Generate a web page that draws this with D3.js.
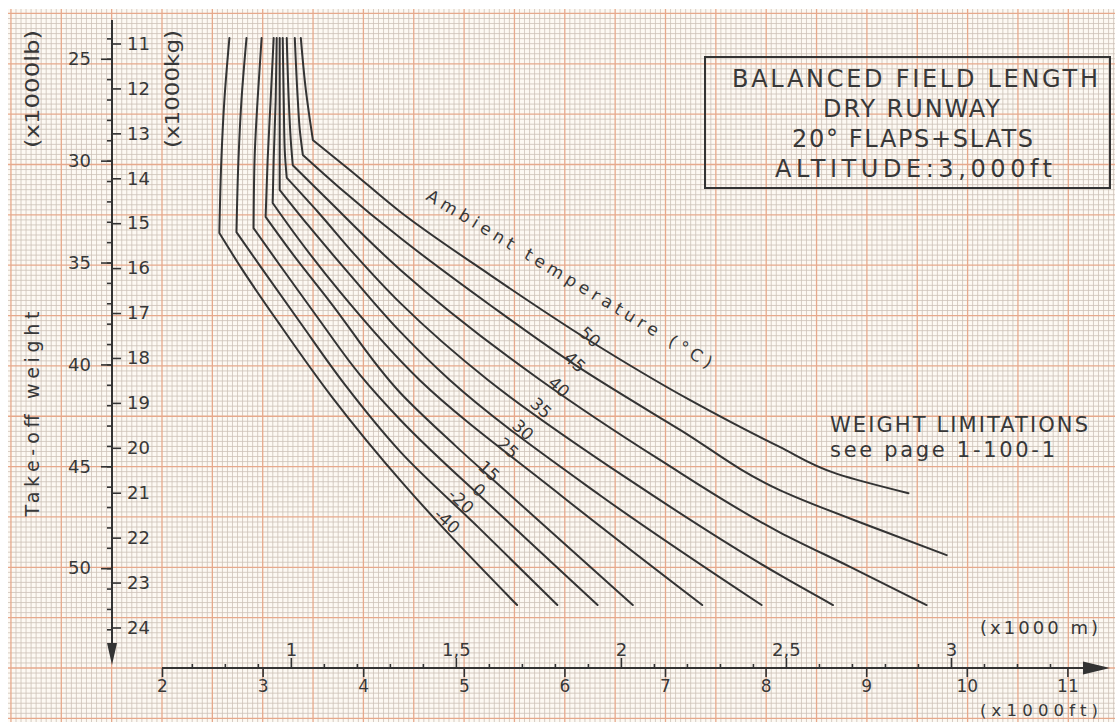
<!DOCTYPE html>
<html>
<head>
<meta charset="utf-8">
<script src="https://cdn.jsdelivr.net/npm/d3@7"></script>
<style>
  html, body { margin: 0; padding: 0; background: #ffffff; }
  svg { display: block; }
  text { font-family: "DejaVu Sans", "Liberation Sans", sans-serif; fill: #383838; }
</style>
</head>
<body>
<svg id="chart" width="1115" height="722"></svg>
<script>
// Ambient temperature of each curve (°C)
const temperatures = [-40, -20, 0, 15, 25, 30, 35, 40, 45, 50];

// Balanced field length (x1000 ft) against take-off weight (x1000 kg).
// Points before the bend follow the near-vertical upper branch.
const curveMinus40 = [[2.67,10.88],[2.62,12.26],[2.59,13.59],[2.57,15.22],[2.80,16.04],[3.16,17.22],[3.69,18.87],[4.41,20.83],[4.76,21.70],[5.53,23.5]];
const curveMinus20 = [[2.84,10.88],[2.79,12.26],[2.76,13.59],[2.74,15.20],[2.99,16.00],[3.37,17.20],[3.82,18.60],[4.37,20.09],[5.14,21.76],[5.93,23.5]];
const curve0  = [[2.99,10.88],[2.95,12.26],[2.92,13.59],[2.91,15.11],[3.17,15.93],[3.55,17.11],[3.97,18.38],[4.37,19.38],[5.31,21.38],[6.33,23.5]];
const curve15 = [[3.11,10.88],[3.08,12.26],[3.05,13.59],[3.03,14.86],[3.27,15.60],[3.67,16.75],[4.37,18.78],[4.91,19.94],[5.46,21.05],[6.68,23.5]];
const curve25 = [[3.14,10.88],[3.13,12.26],[3.11,13.59],[3.10,14.55],[3.35,15.33],[3.77,16.53],[4.56,18.49],[5.96,21.05],[7.37,23.5]];
const curve30 = [[3.17,10.88],[3.17,12.26],[3.17,13.37],[3.17,14.26],[3.45,15.04],[3.87,16.15],[4.37,17.42],[4.86,18.49],[6.35,21.05],[7.96,23.5]];
const curve35 = [[3.20,10.88],[3.21,12.26],[3.22,13.37],[3.24,13.99],[3.55,14.75],[3.92,15.71],[4.37,16.78],[5.24,18.49],[6.65,20.72],[8.14,22.83],[8.67,23.5]];
const curve40 = [[3.24,10.88],[3.26,12.26],[3.28,13.15],[3.30,13.71],[3.63,14.44],[4.37,16.04],[5.76,18.49],[6.95,20.27],[8.14,21.88],[8.84,22.65],[9.60,23.5]];
const curve45 = [[3.32,10.88],[3.35,12.26],[3.37,12.93],[3.40,13.48],[3.77,14.22],[4.37,15.33],[5.26,16.82],[6.11,18.16],[7.15,19.60],[8.14,20.94],[9.14,21.83],[9.80,22.39]];
const curve50 = [[3.38,10.88],[3.43,12.04],[3.47,12.70],[3.50,13.15],[3.87,13.82],[4.37,14.75],[5.26,16.15],[6.24,17.60],[7.25,18.94],[8.14,19.98],[8.71,20.58],[9.42,21.01]];
const kneeIndex = 3;

// Axis ticks
const kgTicks = [11, 12, 13, 14, 15, 16, 17, 18, 19, 20, 21, 22, 23, 24];
const lbTicks = [25, 30, 35, 40, 45, 50];
const lbMinorTicks = d3.range(24, 54);
const ftTicks = [2, 3, 4, 5, 6, 7, 8, 9, 10, 11];
const mTicks = [1, 1.5, 2, 2.5, 3];
const mTickLabels = ["1", "1,5", "2", "2,5", "3"];
const mMinorTicks = d3.range(7, 34).map(d => d / 10).filter(d => !mTicks.includes(d));

// Chart notes
const titleLines = ["BALANCED FIELD LENGTH", "DRY RUNWAY", "20° FLAPS+SLATS", "ALTITUDE:3,000ft"];
const noteLines = ["WEIGHT LIMITATIONS", "see page 1-100-1"];

const curves = [curveMinus40, curveMinus20, curve0, curve15, curve25, curve30, curve35, curve40, curve45, curve50];

const KG_PER_LB = 0.45359237;
const FT_PER_M = 1 / 0.3048;

const W = 1115, H = 722;
const svg = d3.select("#chart");

// ---- scales ----
const x = d3.scaleLinear().domain([2, 11]).range([162, 1067.4]);
const y = d3.scaleLinear().domain([11, 24]).range([43.5, 627.5]);
const yLb = d3.scaleLinear().domain(y.domain().map(k => k / KG_PER_LB)).range(y.range());
const xM = d3.scaleLinear().domain(x.domain().map(f => f / FT_PER_M)).range(x.range());

// ---- graph paper ----
const paper = svg.append("g");
const gx0 = 8, gy0 = 9, step = 5.035;
paper.append("rect").attr("x", gx0).attr("y", gy0).attr("width", W - gx0).attr("height", H - gy0).attr("fill", "#fdf9f3");
const vIdx = d3.range(Math.ceil((gx0 - 162) / step), Math.floor((W - 162) / step) + 1);
const hIdx = d3.range(Math.ceil((gy0 - 668) / step), Math.floor((H - 668) / step) + 1);
const minorV = vIdx.filter(k => k % 10 !== 0), majorV = vIdx.filter(k => k % 10 === 0);
const minorH = hIdx.filter(k => k % 10 !== 0), majorH = hIdx.filter(k => k % 10 === 0);
paper.append("g").selectAll("line").data(minorV).join("line")
  .attr("x1", k => 162 + k * step).attr("x2", k => 162 + k * step)
  .attr("y1", gy0).attr("y2", H).attr("stroke", "#cdc2b7").attr("stroke-width", 0.8);
paper.append("g").selectAll("line").data(minorH).join("line")
  .attr("y1", k => 668 + k * step).attr("y2", k => 668 + k * step)
  .attr("x1", gx0).attr("x2", W).attr("stroke", "#cdc2b7").attr("stroke-width", 0.8);
paper.append("g").selectAll("line").data(majorV).join("line")
  .attr("x1", k => 162 + k * step).attr("x2", k => 162 + k * step)
  .attr("y1", gy0).attr("y2", H).attr("stroke", "#e6a98c").attr("stroke-width", 1.3);
paper.append("g").selectAll("line").data(majorH).join("line")
  .attr("y1", k => 668 + k * step).attr("y2", k => 668 + k * step)
  .attr("x1", gx0).attr("x2", W).attr("stroke", "#e6a98c").attr("stroke-width", 1.3);

const ink = "#333333";

// ---- weight axis (kg on the right side, lb on the left side) ----
const axisX = 112;
const gKg = svg.append("g").attr("transform", `translate(${axisX},0)`)
  .call(d3.axisRight(y).tickValues(kgTicks).tickSize(9).tickPadding(6).tickFormat(d3.format("d")));
const gLbMinor = svg.append("g").attr("transform", `translate(${axisX},0)`)
  .call(d3.axisLeft(yLb).tickValues(lbMinorTicks).tickSize(5).tickFormat(""));
const gLb = svg.append("g").attr("transform", `translate(${axisX},0)`)
  .call(d3.axisLeft(yLb).tickValues(lbTicks).tickSize(11).tickPadding(10).tickFormat(d3.format("d")));

// ---- distance axis (ft below, m above) ----
const axisY = 668;
const gFt = svg.append("g").attr("transform", `translate(0,${axisY})`)
  .call(d3.axisBottom(x).tickValues(ftTicks).tickSize(9).tickPadding(3).tickFormat(d3.format("d")));
const gMMinor = svg.append("g").attr("transform", `translate(0,${axisY})`)
  .call(d3.axisTop(xM).tickValues(mMinorTicks).tickSize(4).tickFormat(""));
const gM = svg.append("g").attr("transform", `translate(0,${axisY})`)
  .call(d3.axisTop(xM).tickValues(mTicks).tickSize(10).tickPadding(2).tickFormat((d, i) => mTickLabels[i]));

[gKg, gLbMinor, gLb, gFt, gMMinor, gM].forEach(g => {
  g.select(".domain").remove();
  g.selectAll(".tick line").attr("stroke", ink).attr("stroke-width", 1.6);
  g.selectAll(".tick text").attr("font-size", 18).attr("fill", "#3c3c3c")
    .style("font-family", '"DejaVu Sans", sans-serif');
});
gFt.selectAll(".tick text").attr("font-size", 17);

// axis lines with arrowheads
svg.append("line").attr("x1", axisX).attr("x2", axisX).attr("y1", 20).attr("y2", 650)
  .attr("stroke", ink).attr("stroke-width", 2);
svg.append("path").attr("d", `M${axisX - 5},643 L${axisX + 5},643 L${axisX},665 Z`).attr("fill", ink);
svg.append("line").attr("x1", 162).attr("x2", 1092).attr("y1", axisY).attr("y2", axisY)
  .attr("stroke", ink).attr("stroke-width", 2);
svg.append("path").attr("d", `M1083,661.5 L1083,674.5 L1110,668 Z`).attr("fill", ink);

// axis titles
svg.append("text").attr("transform", "translate(32,89) rotate(-90)").attr("dy", "0.35em")
  .attr("text-anchor", "middle").attr("font-size", 19).attr("textLength", 118).attr("lengthAdjust", "spacingAndGlyphs")
  .text("(x1000lb)");
svg.append("text").attr("transform", "translate(172,89) rotate(-90)").attr("dy", "0.35em")
  .attr("text-anchor", "middle").attr("font-size", 19).attr("textLength", 118).attr("lengthAdjust", "spacingAndGlyphs")
  .text("(x1000kg)");
svg.append("text").attr("transform", "translate(32,414) rotate(-90)").attr("dy", "0.35em")
  .attr("text-anchor", "middle").attr("font-size", 19).attr("textLength", 205).attr("lengthAdjust", "spacing")
  .text("Take-off weight");
svg.append("text").attr("x", 980).attr("y", 634).attr("font-size", 18)
  .attr("textLength", 118).attr("lengthAdjust", "spacing").text("(x1000 m)");
svg.append("text").attr("x", 980).attr("y", 716).attr("font-size", 16.5)
  .attr("textLength", 118).attr("lengthAdjust", "spacing").text("(x1000ft)");

// ---- temperature curves: smooth upper branch and lower branch meeting at a sharp bend ----
const branch = d3.line().x(d => x(d[0])).y(d => y(d[1])).curve(d3.curveMonotoneY);
const curvePath = pts => branch(pts.slice(0, kneeIndex + 1)) + branch(pts.slice(kneeIndex)).replace(/^M/, "L");
svg.append("g").selectAll("path").data(curves).join("path")
  .attr("d", curvePath).attr("fill", "none").attr("stroke", "#343434")
  .attr("stroke-width", 2).attr("stroke-linejoin", "round").attr("stroke-linecap", "round");

// curve labels, set along a diagonal across the fan of curves
const labelAnchors = [[447,521],[461,501],[479,490],[489,471],[508,448],[523,430],[541,408],[559,387],[575,362],[590,337]];
svg.append("g").selectAll("text").data(temperatures).join("text")
  .attr("transform", (d, i) => `translate(${labelAnchors[i][0]},${labelAnchors[i][1]}) rotate(43)`)
  .attr("text-anchor", "middle").attr("dy", "0.35em").attr("font-size", 17)
  .text(d => d);

svg.append("text").attr("transform", "translate(425,199) rotate(31)")
  .attr("font-size", 17).attr("textLength", 330).attr("lengthAdjust", "spacing")
  .text("Ambient temperature (°C)");

// ---- title box ----
svg.append("rect").attr("x", 705).attr("y", 57).attr("width", 405).attr("height", 131)
  .attr("fill", "none").attr("stroke", ink).attr("stroke-width", 2);
const titleSpans = [[732, 1098], [823, 1000], [792, 1033], [775, 1052]];
svg.append("g").selectAll("text").data(titleLines).join("text")
  .attr("x", (d, i) => titleSpans[i][0]).attr("y", (d, i) => 87 + i * 30)
  .attr("font-size", 24).attr("textLength", (d, i) => titleSpans[i][1] - titleSpans[i][0])
  .attr("lengthAdjust", "spacing").text(d => d);

// ---- weight limitation note ----
const noteSpans = [[830, 1088], [830, 1055]];
svg.append("g").selectAll("text").data(noteLines).join("text")
  .attr("x", (d, i) => noteSpans[i][0]).attr("y", (d, i) => 432 + i * 25)
  .attr("font-size", 21).attr("textLength", (d, i) => noteSpans[i][1] - noteSpans[i][0])
  .attr("lengthAdjust", "spacing").text(d => d);
</script>
</body>
</html>
